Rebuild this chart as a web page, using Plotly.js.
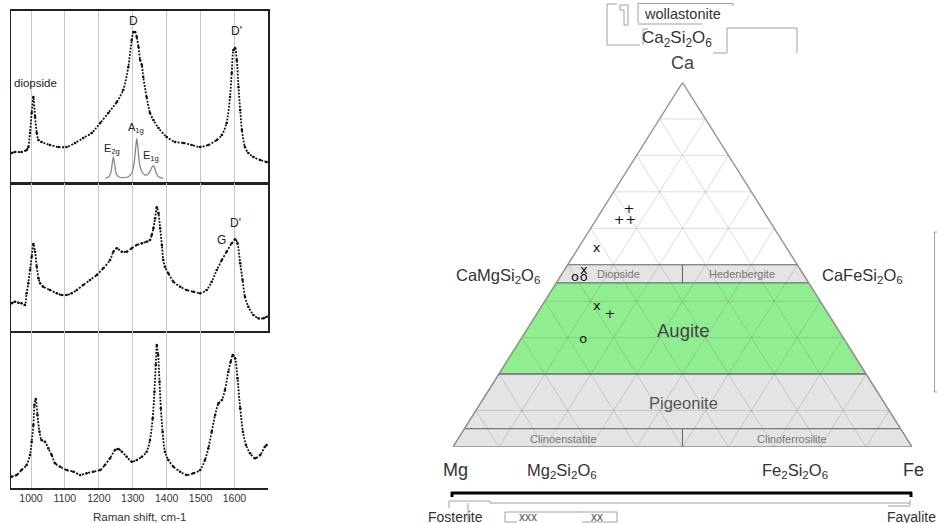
<!DOCTYPE html>
<html><head><meta charset="utf-8">
<script src="https://cdn.plot.ly/plotly-3.0.1.min.js"></script>
<style>html,body{margin:0;padding:0;background:#fff}</style>
</head><body><div id="chart" style="width:937px;height:523px"></div>
<script>
// ---------------- Raman spectra (arbitrary intensity units) ----------------
const topShift = [943,953,972,987,992,997,1002,1007,1012,1017,1022,1031,1056,1081,1105,1130,1154,1179,1204,1228,1253,1272,1287,1297,1302,1307,1312,1317,1322,1327,1331,1341,1351,1361,1376,1400,1425,1450,1474,1499,1523,1548,1563,1577,1587,1592,1597,1602,1607,1612,1617,1622,1631,1641,1656,1676,1695];
const topIntensity = [30,31,31,33,36,50,70,86,66,50,43,41,38,36,36,40,45,50,60,70,81,93,116,143,151,151,146,136,123,118,106,86,70,63,55,46,41,40,38,36,38,43,48,60,86,110,133,135,123,96,73,53,36,30,26,23,21];

const bandShift = [1218,1228,1235,1239,1243,1247,1251,1258,1272,1287,1297,1304,1309,1312,1315,1320,1327,1336,1346,1353,1358,1361,1364,1369,1376,1390];
const bandIntensity = [4.7,5.7,9.7,18,26.3,18,9.7,6.3,5.3,6.3,9.7,19.7,36.3,44.7,36.3,19.7,11.3,8,9,13,16.3,17.3,15.7,10.3,6.3,4.7];

const midShift = [943,953,963,972,982,987,992,997,1002,1007,1012,1017,1022,1027,1036,1056,1076,1090,1105,1120,1135,1154,1174,1194,1213,1233,1243,1253,1268,1282,1297,1312,1327,1341,1351,1356,1361,1366,1371,1376,1381,1386,1390,1395,1405,1420,1440,1459,1479,1499,1518,1533,1548,1563,1577,1592,1602,1609,1617,1624,1631,1641,1656,1671,1686,1695];
const midIntensity = [27.7,29.3,28.3,27.7,26,37.7,47.7,61,74.3,87,79.3,64.3,52.7,47.7,44.3,41,37.7,36,36,37.7,41,46,51,56,62.7,71,79.3,82.7,79.3,79.3,82.7,86,87.7,89.3,91,96,102.7,112.7,123.7,117.7,102.7,86,71,64.3,57.7,49.3,44.3,41,39.3,37.7,41,49.3,61,71,79.3,87.7,91.7,87.7,67.7,51,34.3,24.3,16,12.7,12.7,14.3];

const botShift = [943,958,972,987,997,1002,1007,1010,1014,1019,1025,1031,1041,1051,1061,1071,1086,1105,1125,1145,1164,1184,1204,1218,1233,1248,1258,1268,1282,1297,1312,1327,1341,1351,1359,1364,1368,1371,1375,1379,1383,1388,1395,1405,1420,1440,1459,1479,1499,1513,1523,1533,1543,1553,1563,1572,1582,1589,1595,1602,1609,1617,1625,1634,1646,1661,1676,1690,1695];
const botIntensity = [11.3,13,18,23,33,46.3,63,83,89,73,56.3,48,46.3,39.7,33,24.7,21.3,18,16.3,13,14.7,16.3,18,23,29.7,38,39,36.3,31.3,26.3,28,31.3,36.3,48,69.7,96.3,123,143,133,106.3,79.7,56.3,36.3,28,21.3,16.3,13,14.7,18,28,39.7,56.3,73,84.7,88,98,116.3,126.3,133,129.7,109.7,79.7,56.3,43,34.7,29.7,33,41.3,43];

const shiftTicks = [1000,1100,1200,1300,1400,1500,1600];

// ---------------- Pyroxene quadrilateral (compositions, mol %) ----------------
const fieldNames = ['Diopside','Hedenbergite','Augite','Pigeonite','Clinoenstatite','Clinoferrosilite'];
const fieldWoTop = [50,50,45,20,5,5];
const fieldWoBottom = [45,45,20,5,0,0];
const fieldSide = ['Mg','Fe','all','all','Mg','Fe'];
const fieldColor = ['#e4e4e4','#e4e4e4','#90ee90','#e4e4e4','#e4e4e4','#e4e4e4'];

const sampleSymbol = ['+','+','+','x','o','o','x','x','+','o'];
const sampleWo = [65.1,62.0,62.2,54.4,46.5,46.4,48.4,38.5,36.2,29.3];
const sampleFs = [5.8,5.2,7.6,4.1,3.3,5.3,4.3,12.1,16.1,13.7];
const sampleEn = sampleWo.map((w,i)=>+(100-w-sampleFs[i]).toFixed(1));

// ---------------- helpers ----------------
const W=937,H=523;
const px = x => x/W, py = y => 1 - y/H;
const tx = (wo,fs) => fs + wo/2;   // composition -> cartesian x
const ty = (wo) => wo;             // composition -> cartesian y

const traces = [];
const specLine = {color:'#111', width:1.8, dash:'1.8px,1.4px', shape:'spline', smoothing:0.7};
const specMarker = {size:2.6, color:'#111'};
traces.push({x:topShift, y:topIntensity, xaxis:'x', yaxis:'y', mode:'lines+markers', line:specLine, marker:specMarker, hoverinfo:'skip'});
traces.push({x:bandShift, y:bandIntensity, xaxis:'x', yaxis:'y', mode:'lines', line:{color:'#888', width:1.3, shape:'spline', smoothing:0.6}, hoverinfo:'skip'});
traces.push({x:midShift, y:midIntensity, xaxis:'x2', yaxis:'y2', mode:'lines+markers', line:specLine, marker:specMarker, hoverinfo:'skip'});
traces.push({x:botShift, y:botIntensity, xaxis:'x3', yaxis:'y3', mode:'lines+markers', line:specLine, marker:specMarker, hoverinfo:'skip'});

// triangle background
traces.push({x:[tx(100,0),tx(0,0),tx(0,100),tx(100,0)], y:[ty(100),ty(0),ty(0),ty(100)], xaxis:'x4', yaxis:'y4', mode:'lines', fill:'toself', fillcolor:'#ffffff', line:{color:'#9a9a9a', width:1.2}, cliponaxis:false, hoverinfo:'skip'});
// fields
fieldNames.forEach((n,i)=>{
  const t=fieldWoTop[i], b=fieldWoBottom[i];
  let v;
  if(fieldSide[i]==='Mg') v=[[t,0],[t,(100-t)/2],[b,(100-b)/2],[b,0]];
  else if(fieldSide[i]==='Fe') v=[[t,(100-t)/2],[t,100-t],[b,100-b],[b,(100-b)/2]];
  else v=[[t,0],[t,100-t],[b,100-b],[b,0]];
  v.push(v[0]);
  traces.push({x:v.map(p=>tx(p[0],p[1])), y:v.map(p=>ty(p[0])), xaxis:'x4', yaxis:'y4', mode:'lines', fill:'toself', fillcolor:fieldColor[i], line:{color:'#6e6e6e', width:1.1}, cliponaxis:false, hoverinfo:'skip', name:n});
});
// ternary grid
const gx=[], gy=[];
for(let L=10; L<100; L+=10){
  gx.push(tx(L,0),tx(L,100-L),null); gy.push(ty(L),ty(L),null);
  gx.push(tx(0,L),tx(100-L,L),null); gy.push(ty(0),ty(100-L),null);
  gx.push(tx(0,100-L),tx(100-L,0),null); gy.push(ty(0),ty(100-L),null);
}
traces.push({x:gx, y:gy, xaxis:'x4', yaxis:'y4', mode:'lines', line:{color:'rgba(110,110,110,0.24)', width:1}, hoverinfo:'skip'});
// outline on top
traces.push({x:[tx(100,0),tx(0,0),tx(0,100),tx(100,0)], y:[ty(100),ty(0),ty(0),ty(100)], xaxis:'x4', yaxis:'y4', mode:'lines', line:{color:'#9a9a9a', width:1.2}, cliponaxis:false, hoverinfo:'skip'});
// samples
traces.push({x:sampleWo.map((w,i)=>tx(w,sampleFs[i])), y:sampleWo.map(w=>ty(w)), text:sampleSymbol, xaxis:'x4', yaxis:'y4', mode:'text', textposition:'middle center', textfont:{family:'DejaVu Sans', size:13, color:'#111'}, cliponaxis:false, hoverinfo:'skip'});

const F = 'Liberation Sans, Arial, sans-serif';
const ann = (text,x,y,size,color,extra) => Object.assign({text, x:px(x), y:py(y), xref:'paper', yref:'paper', showarrow:false, font:{family:F, size, color}, xanchor:'center', yanchor:'middle'}, extra||{});
const annotations = [
  ann('D',133.5,21,12,'#222'),
  ann("D'",236,31,12,'#222'),
  ann('diopside',35,83,11.5,'#222'),
  ann('A<sub>1g</sub>',136,128,11,'#222'),
  ann('E<sub>2g</sub>',112,149,11,'#222'),
  ann('E<sub>1g</sub>',151,156,11,'#222'),
  ann('G',221.5,240,12,'#222'),
  ann("D'",235,223,12,'#222'),
  ann('Raman shift, cm-1',139,517,11.5,'#333'),
  ann('wollastonite',682,14,14.5,'#333'),
  ann('Ca<sub>2</sub>Si<sub>2</sub>O<sub>6</sub>',677,39,17,'#333'),
  ann('Ca',683,63,18,'#444'),
  ann('CaMgSi<sub>2</sub>O<sub>6</sub>',498,276,16.5,'#333'),
  ann('CaFeSi<sub>2</sub>O<sub>6</sub>',862,276,16.5,'#333'),
  ann('Diopside',618,274,11,'#777'),
  ann('Hedenbergite',742,274,11,'#777'),
  ann('Augite',683,330,18.5,'#444'),
  ann('Pigeonite',683,403,16.5,'#555'),
  ann('Clinoenstatite',563,439,11,'#777'),
  ann('Clinoferrosilite',792,439,11,'#777'),
  ann('Mg',455,470,18,'#333'),
  ann('Mg<sub>2</sub>Si<sub>2</sub>O<sub>6</sub>',562,471,16.5,'#333'),
  ann('Fe<sub>2</sub>Si<sub>2</sub>O<sub>6</sub>',795,471,16.5,'#333'),
  ann('Fe',913,470,18,'#333'),
  ann('Fosterite',455,517,14,'#333'),
  ann('xxx',528,517,12,'#555'),
  ann('xx',597,517,12,'#555'),
  ann('Fayalite',911,517,14,'#333')
];

const P = (pts) => 'M' + pts.map(p=>px(p[0])+','+py(p[1])).join(' L');
const art = {type:'path', xref:'paper', yref:'paper', line:{color:'#a0a0a0', width:1}};
const shapes = [
  // black composition bar
  {type:'line', xref:'paper', yref:'paper', x0:px(451), x1:px(912), y0:py(493), y1:py(493), line:{color:'#000', width:3}},
  {type:'line', xref:'paper', yref:'paper', x0:px(452), x1:px(452), y0:py(492), y1:py(497), line:{color:'#000', width:3}},
  {type:'line', xref:'paper', yref:'paper', x0:px(911), x1:px(911), y0:py(492), y1:py(497), line:{color:'#000', width:3}},
  // outline artefacts (top)
  Object.assign({path:P([[617,4],[607,4],[607,45],[640,45]])}, art),
  Object.assign({path:P([[620,5],[628,5],[628,25],[624,25],[624,10],[620,10],[620,5]])}, art),
  Object.assign({path:P([[638,23],[638,3.5],[733,3.5],[733,6]])}, art),
  Object.assign({path:P([[638,24],[702,24]])}, art),
  Object.assign({path:P([[643,45],[643,29],[648,29]])}, art),
  Object.assign({path:P([[713,53],[727,53],[727,28],[797,28],[797,53]])}, art),
  // right bracket
  Object.assign({path:P([[937,232],[934.5,232],[934.5,392],[937,392]])}, art),
  // bottom artefacts
  Object.assign({path:P([[449,508],[449,501],[490,501],[490,503],[910,503],[910,500]])}, art),
  Object.assign({path:P([[468,523],[468,503]])}, art),
  Object.assign({path:P([[888,506],[910,506],[910,503]])}, art),
  Object.assign({path:P([[517,522],[505,522],[505,512],[583,512]])}, art),
  Object.assign({path:P([[582,522],[617,522],[617,512],[582,512]])}, art)
];

const common = {range:[941,1699], domain:[px(11),px(268)], showgrid:true, gridcolor:'#c8c8c8', gridwidth:1, tickvals:shiftTicks, ticks:'', zeroline:false, showline:true, linecolor:'#222', linewidth:1.5, mirror:true, fixedrange:true};
const layout = {
  width:W, height:H, margin:{l:0,r:0,t:0,b:0}, paper_bgcolor:'#fff', plot_bgcolor:'rgba(0,0,0,0)', showlegend:false,
  xaxis: Object.assign({}, common, {anchor:'y', showticklabels:false}),
  xaxis2: Object.assign({}, common, {anchor:'y2', showticklabels:false}),
  xaxis3: Object.assign({}, common, {anchor:'y3', showticklabels:true, tickfont:{family:F, size:10.5, color:'#333'}, mirror:false}),
  yaxis: {domain:[py(183),py(10.5)], range:[0,172.5], anchor:'x', showticklabels:false, showgrid:false, zeroline:false, showline:true, linecolor:'#222', linewidth:1.5, mirror:true, ticks:''},
  yaxis2: {domain:[py(331),py(183)], range:[0,148], anchor:'x2', showticklabels:false, showgrid:false, zeroline:false, showline:true, linecolor:'#222', linewidth:1.5, mirror:true, ticks:''},
  yaxis3: {domain:[py(488),py(331)], range:[0,157], anchor:'x3', showticklabels:false, showgrid:false, zeroline:false, showline:true, linecolor:'#222', linewidth:1.5, mirror:false, ticks:''},
  xaxis4: {domain:[px(453),px(912)], range:[0,100], anchor:'y4', visible:false, fixedrange:true},
  yaxis4: {domain:[py(447),py(82.5)], range:[0,100], anchor:'x4', visible:false, fixedrange:true},
  annotations, shapes
};
Plotly.newPlot('chart', traces, layout, {displayModeBar:false, staticPlot:true});
</script></body></html>
